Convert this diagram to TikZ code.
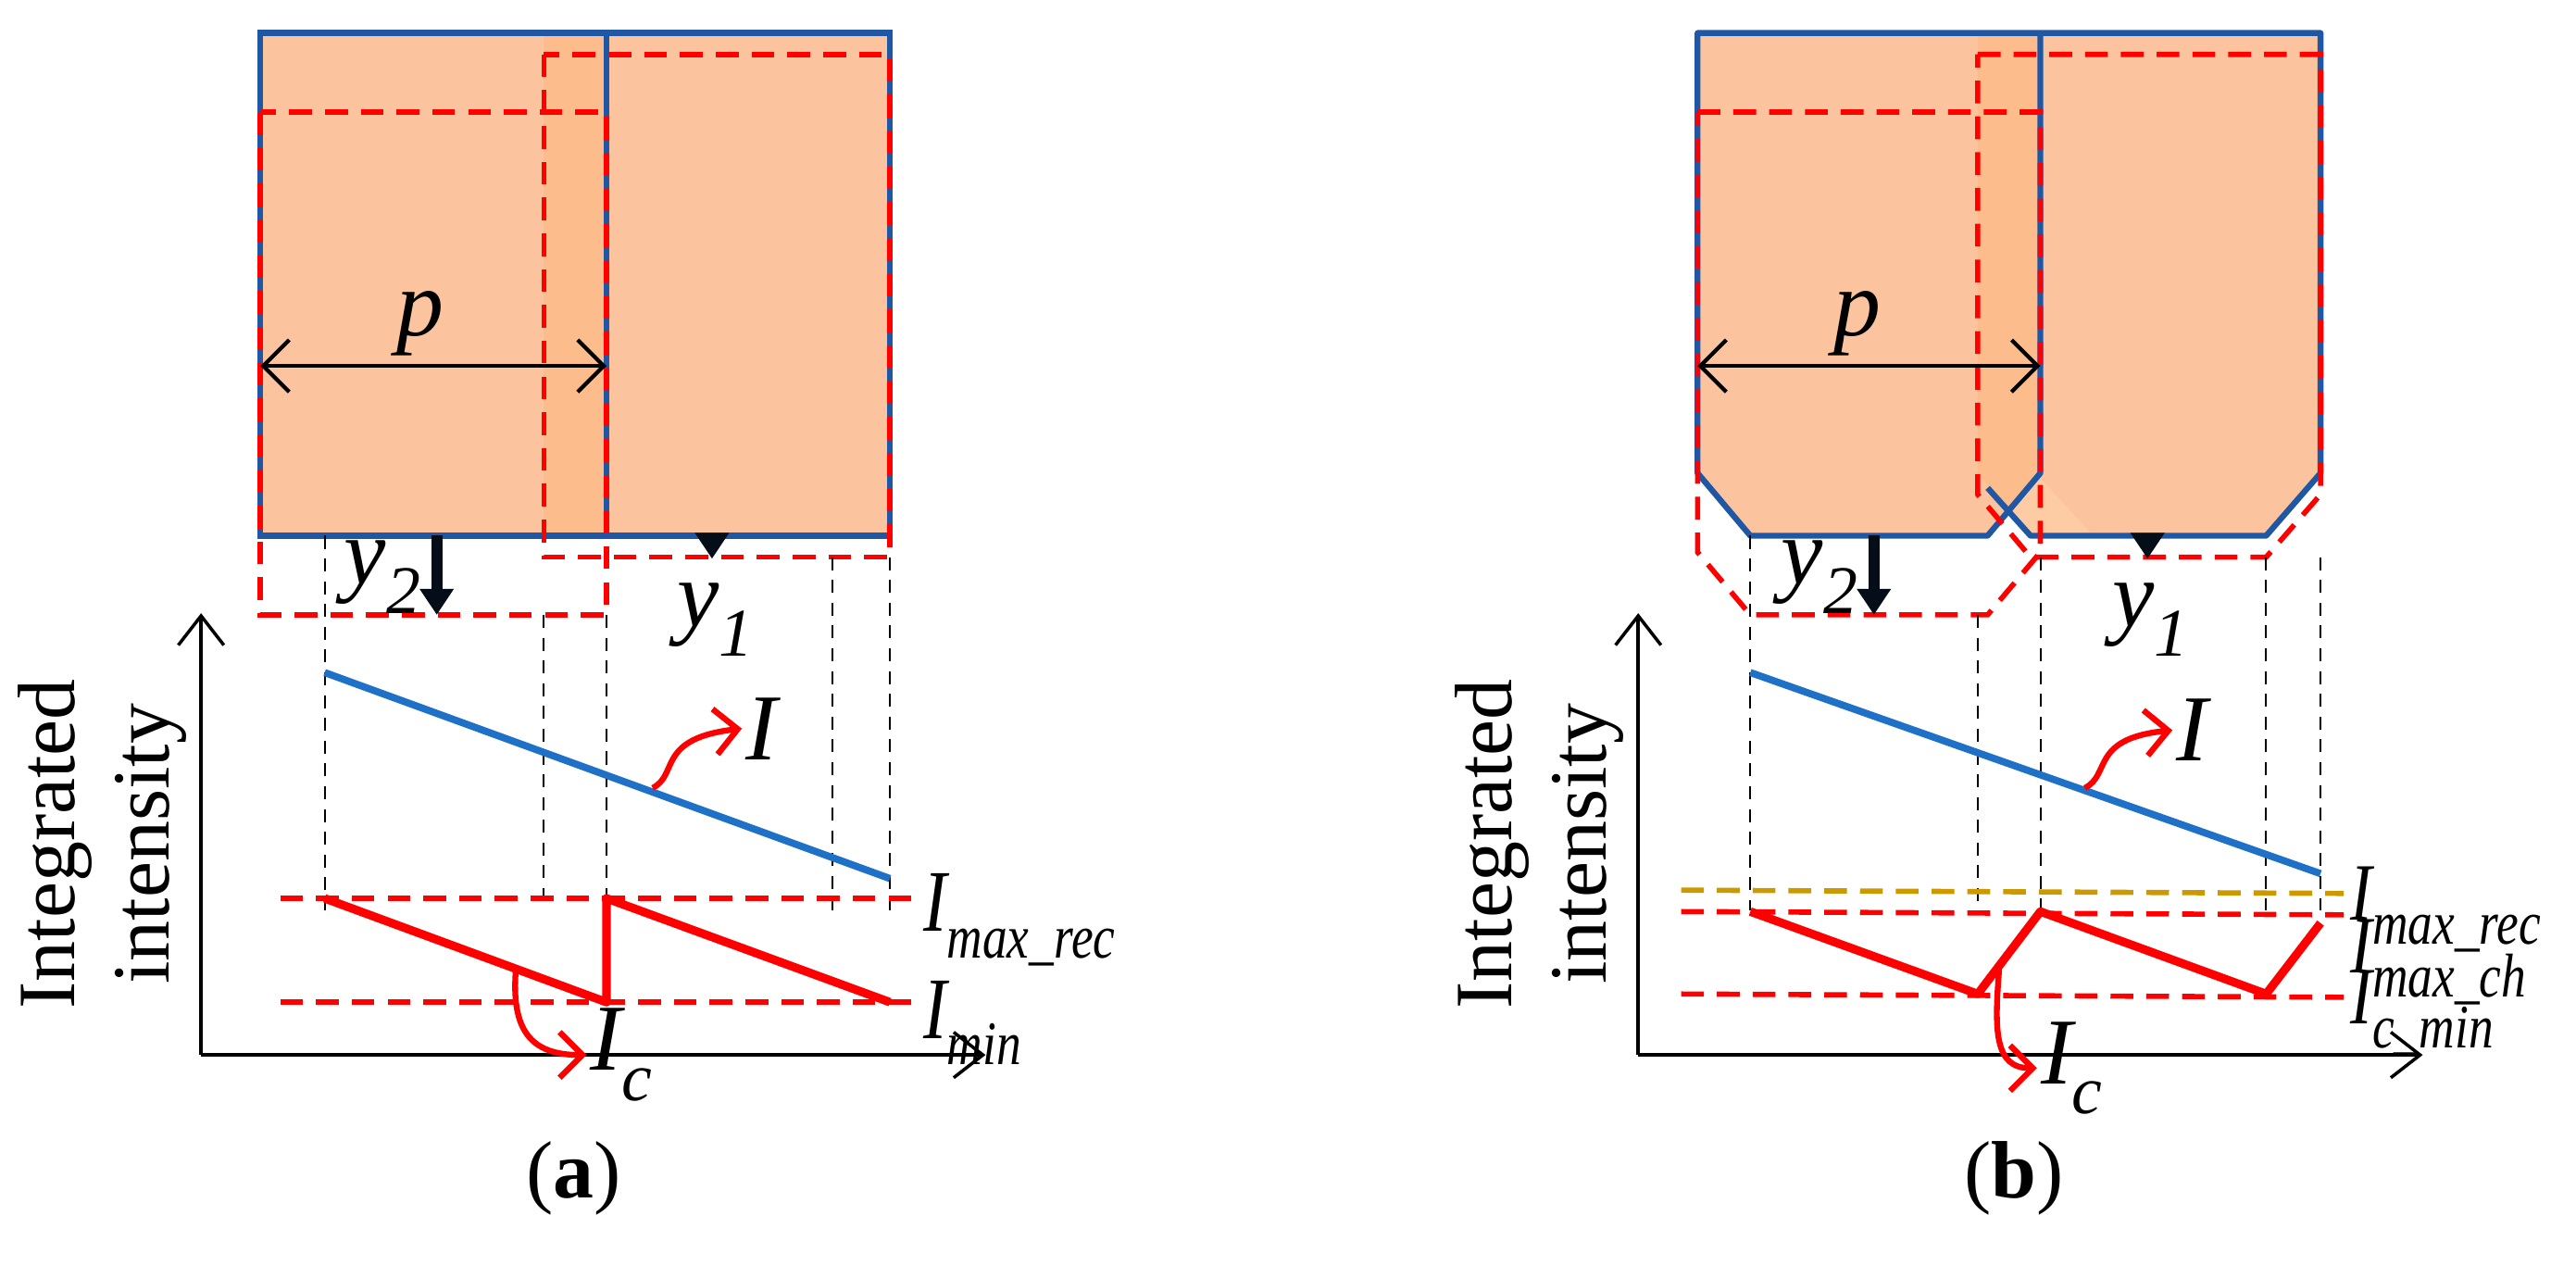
\documentclass[tikz,border=0pt]{standalone}
\usepackage{fontspec}
\setmainfont{Liberation Serif}
\usetikzlibrary{arrows.meta}
\definecolor{slab}{RGB}{252,196,158}
\definecolor{edge}{RGB}{31,87,165}
\definecolor{trend}{RGB}{31,113,200}
\definecolor{gold}{RGB}{204,153,0}
\newcommand\Ilab[2]{#1\raisebox{-0.32em}{\fontsize{21}{21}\selectfont #2}}
\newcommand\Inar[2]{\scalebox{0.8}[1]{#1\raisebox{-0.3em}{\fontsize{19}{19}\selectfont #2}}}
\tikzset{
  reddash/.style={red,line width=1.6pt,dash pattern=on 7pt off 4pt},
  guide/.style={black,line width=0.6pt,dash pattern=on 4pt off 3pt},
  feed/.style={line width=3.4pt,color=black!85!edge,-{Triangle[length=8pt,width=10pt]}},
  axis/.style={line width=1pt,-{Straight Barb[length=9pt,width=14pt]}},
  callout/.style={red,line width=1.8pt,-{Straight Barb[length=7pt,width=14pt]}},
  lab/.style={font=\fontsize{29}{29}\selectfont\itshape,inner sep=1pt},
  sub/.style={font=\fontsize{27}{27}\selectfont\itshape,inner sep=1pt,anchor=base west},
  panel/.style={font=\fontsize{25}{29}\selectfont}
}
\begin{document}
\begin{tikzpicture}[x=0.0178cm,y=-0.0178cm]
\useasboundingbox (0,0) rectangle (1563,775);
% ---- panel (a) ----
\fill[slab] (158,20) rectangle (368,325); % left block
\fill[slab!85!orange,opacity=0.75] (330,20) rectangle (540,325); % right block
\fill[slab] (368,20) rectangle (540,325);
\draw[edge,line width=1.8pt] (158,20) rectangle (368,325) (368,20)--(540,20)--(540,325)--(368,325); % outline
\draw[reddash] (158,68) rectangle (368,373); % shifted left block
\draw[reddash] (330,33) rectangle (540,338); % shifted right block
\draw[line width=1.2pt,<->,>={Straight Barb[length=8pt,width=16pt]}] (158,222)--(368,222); % pitch
\node[lab] (pa) at (255,196) {p};
\draw[feed] (265,325)--(265,373); % y2
\draw[feed,line width=2.4pt] (432,325)--(432,339); % y1
\node[lab] (y2a) at (232,350) {\Ilab{y}{2}};
\node[lab] (y1a) at (434,376) {\Ilab{y}{1}};
\foreach \x/\t in {197/325,330/373,368/373,505/338,540/338}
  \draw[guide] (\x,\t)--(\x,552); % projections
\draw[axis] (122,640)--(122,372); % ordinate
\draw[axis] (122,640)--(598,640); % abscissa
\node[panel,rotate=90,align=center] (ya) at (62,512) {Integrated\\intensity};
\draw[trend,line width=2.2pt] (197,408)--(540,533); % I
\draw[reddash] (170,545)--(555,545); % max
\draw[reddash] (170,608)--(555,608); % min
\draw[red,line width=2.6pt,line join=round] (197,545)--(368,608)--(368,545)--(540,608); % Ic
\node[lab] (Ia) at (462,442) {I};
\draw[callout] (396,478) .. controls (412,470) and (398,448) .. (Ia.west);
\node[lab] (Ica) at (377,640) {\Ilab{I}{c}};
\draw[callout] (313,588) .. controls (310,625) and (322,640) .. (Ica.west);
\node[sub] (maxa) at (558,565) {\Inar{I}{max\_rec}};
\node[sub] (mina) at (558,630) {\Inar{I}{min}};
\node[panel] (capa) at (348,715) {(\textbf{a})};
% ---- panel (b) ----
\fill[slab] (1030,20)--(1238,20)--(1238,287)--(1206,325)--(1062,325)--(1030,287)--cycle; % left block
\fill[slab!85!orange,opacity=0.75] (1200,20)--(1408,20)--(1408,287)--(1375,325)--(1232,325)--(1200,287)--cycle; % right block
\fill[slab] (1238,20)--(1408,20)--(1408,287)--(1375,325)--(1270,325)--(1238,290)--cycle;
\draw[edge,line width=1.8pt,line join=round] (1030,20)--(1238,20)--(1238,287)--(1206,325)--(1062,325)--(1030,287)--cycle
  (1238,20)--(1408,20)--(1408,287)--(1375,325)--(1232,325)--(1206,296); % outline
\draw[reddash] (1030,68)--(1238,68)--(1238,335)--(1206,373)--(1062,373)--(1030,335)--cycle; % shifted left
\draw[reddash] (1200,33)--(1408,33)--(1408,300)--(1375,338)--(1232,338)--(1200,300)--cycle; % shifted right
\draw[line width=1.2pt,<->,>={Straight Barb[length=8pt,width=16pt]}] (1030,222)--(1238,222); % pitch
\node[lab] (pb) at (1127,196) {p};
\draw[feed] (1137,325)--(1137,373); % y2
\draw[feed,line width=2.4pt] (1303,325)--(1303,339); % y1
\node[lab] (y2b) at (1104,350) {\Ilab{y}{2}};
\node[lab] (y1b) at (1305,376) {\Ilab{y}{1}};
\foreach \x/\t in {1062/325,1200/373,1238/338,1375/338,1408/338}
  \draw[guide] (\x,\t)--(\x,552); % projections
\draw[axis] (994,640)--(994,372); % ordinate
\draw[axis] (994,640)--(1470,640); % abscissa
\node[panel,rotate=90,align=center] (yb) at (934,512) {Integrated\\intensity};
\draw[trend,line width=2.2pt] (1062,408)--(1408,530); % I
\draw[gold,line width=1.6pt,dash pattern=on 7pt off 4pt] (1020,540)--(1422,542); % max rec
\draw[reddash] (1020,553)--(1422,555); % max ch
\draw[reddash] (1020,603)--(1422,605); % min
\draw[red,line width=2.6pt,line join=round] (1062,553)--(1200,603)--(1238,553)--(1375,603)--(1408,560); % Ic
\node[lab] (Ib) at (1330,443) {I};
\draw[callout] (1265,478) .. controls (1281,470) and (1268,448) .. (Ib.west);
\node[lab] (Icb) at (1257,648) {\Ilab{I}{c}};
\draw[callout] (1213,588) .. controls (1210,625) and (1210,648) .. (Icb.west);
\node[sub,font=\fontsize{25}{25}\selectfont\itshape] (maxrb) at (1424,558) {\Inar{I}{max\_rec}};
\node[sub,font=\fontsize{25}{25}\selectfont\itshape] (maxcb) at (1424,590) {\Inar{I}{max\_ch}};
\node[sub,font=\fontsize{25}{25}\selectfont\itshape] (minb) at (1424,621) {\Inar{I}{c\_min}};
\node[panel] (capb) at (1222,715) {(\textbf{b})};
\end{tikzpicture}
\end{document}
